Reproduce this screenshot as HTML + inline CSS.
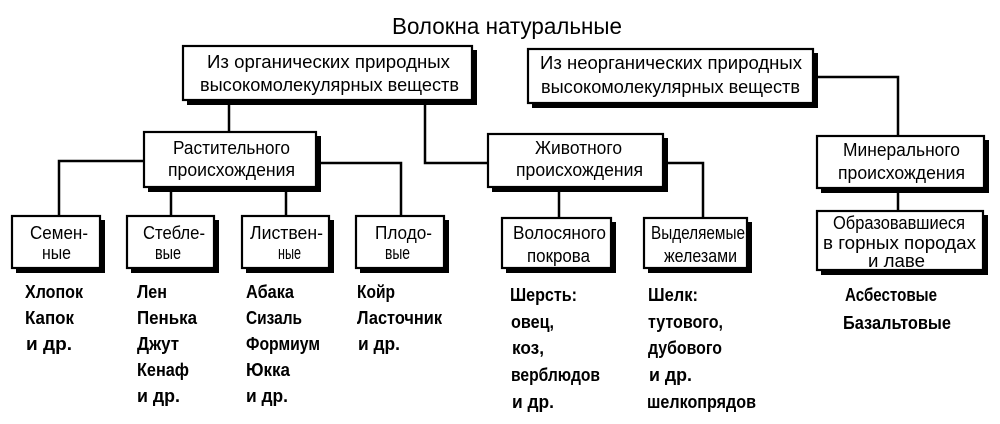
<!DOCTYPE html>
<html><head><meta charset="utf-8"><style>
html,body{margin:0;padding:0;background:#fff;}
svg{display:block;}
text{font-family:"Liberation Sans",sans-serif;fill:#000;dominant-baseline:central;}
.b{font-size:18px;}
.l{font-size:18px;font-weight:bold;}
</style></head><body>
<svg width="1000" height="424" viewBox="0 0 1000 424" xmlns="http://www.w3.org/2000/svg">
<g stroke="#000" stroke-width="2.5" fill="none">
<line x1="229" y1="100" x2="229" y2="132"/>
<polyline points="425,100 425,163 490,163"/>
<polyline points="813,77 898,77 898,136"/>
<line x1="898" y1="188" x2="898" y2="211"/>
<polyline points="144,161 59,161 59,216"/>
<polyline points="316,163 401,163 401,216"/>
<line x1="171" y1="187" x2="171" y2="216"/>
<line x1="286" y1="187" x2="286" y2="216"/>
<polyline points="663,163 703,163 703,218"/>
<line x1="559" y1="187" x2="559" y2="218"/>
</g>
<g fill="#000">
<rect x="187" y="50" width="290" height="55"/>
<rect x="532" y="53" width="286" height="55"/>
<rect x="148" y="136" width="173" height="56"/>
<rect x="492" y="138" width="176" height="54"/>
<rect x="821" y="140" width="168" height="53"/>
<rect x="16" y="220" width="89" height="53"/>
<rect x="131" y="220" width="88" height="53"/>
<rect x="246" y="220" width="88" height="53"/>
<rect x="360" y="220" width="89" height="53"/>
<rect x="506" y="222" width="110" height="51"/>
<rect x="648" y="222" width="104" height="51"/>
<rect x="821" y="215" width="167" height="60"/>
</g>
<g fill="#fff" stroke="#000" stroke-width="2.2">
<rect x="183" y="46" width="289" height="54"/>
<rect x="528" y="49" width="285" height="54"/>
<rect x="144" y="132" width="172" height="55"/>
<rect x="488" y="134" width="175" height="53"/>
<rect x="817" y="136" width="167" height="52"/>
<rect x="12" y="216" width="88" height="52"/>
<rect x="127" y="216" width="87" height="52"/>
<rect x="242" y="216" width="87" height="52"/>
<rect x="356" y="216" width="88" height="52"/>
<rect x="502" y="218" width="109" height="50"/>
<rect x="644" y="218" width="103" height="50"/>
<rect x="817" y="211" width="166" height="59"/>
</g>
<text x="392" y="26" font-size="23" textLength="230" lengthAdjust="spacingAndGlyphs">Волокна натуральные</text>
<g class="b">
<text x="207" y="62" textLength="243" lengthAdjust="spacingAndGlyphs">Из органических природных</text>
<text x="200" y="85" textLength="259" lengthAdjust="spacingAndGlyphs">высокомолекулярных веществ</text>
<text x="540" y="63" textLength="262" lengthAdjust="spacingAndGlyphs">Из неорганических природных</text>
<text x="541" y="87" textLength="259" lengthAdjust="spacingAndGlyphs">высокомолекулярных веществ</text>
<text x="173" y="148" textLength="117" lengthAdjust="spacingAndGlyphs">Растительного</text>
<text x="168" y="170" textLength="127" lengthAdjust="spacingAndGlyphs">происхождения</text>
<text x="535" y="148" textLength="87" lengthAdjust="spacingAndGlyphs">Животного</text>
<text x="516" y="170" textLength="127" lengthAdjust="spacingAndGlyphs">происхождения</text>
<text x="843" y="150" textLength="117" lengthAdjust="spacingAndGlyphs">Минерального</text>
<text x="838" y="173" textLength="127" lengthAdjust="spacingAndGlyphs">происхождения</text>
<text x="513" y="233" textLength="93" lengthAdjust="spacingAndGlyphs">Волосяного</text>
<text x="527" y="256" textLength="63" lengthAdjust="spacingAndGlyphs">покрова</text>
<text x="651" y="233" textLength="94" lengthAdjust="spacingAndGlyphs">Выделяемые</text>
<text x="664" y="256" textLength="73" lengthAdjust="spacingAndGlyphs">железами</text>
<text x="833" y="223" textLength="132" lengthAdjust="spacingAndGlyphs">Образовавшиеся</text>
<text x="823" y="243" textLength="153" lengthAdjust="spacingAndGlyphs">в горных породах</text>
<text x="868" y="261" textLength="57" lengthAdjust="spacingAndGlyphs">и лаве</text>
<text x="30" y="233" textLength="58" lengthAdjust="spacingAndGlyphs">Семен-</text>
<text x="42" y="253" textLength="29" lengthAdjust="spacingAndGlyphs">ные</text>
<text x="143" y="233" textLength="62" lengthAdjust="spacingAndGlyphs">Стебле-</text>
<text x="155" y="253" textLength="26" lengthAdjust="spacingAndGlyphs">вые</text>
<text x="250" y="233" textLength="73" lengthAdjust="spacingAndGlyphs">Листвен-</text>
<text x="278" y="253" textLength="23" lengthAdjust="spacingAndGlyphs">ные</text>
<text x="375" y="233" textLength="57" lengthAdjust="spacingAndGlyphs">Плодо-</text>
<text x="385" y="253" textLength="25" lengthAdjust="spacingAndGlyphs">вые</text>
</g>
<g class="l">
<text x="25" y="292" textLength="58" lengthAdjust="spacingAndGlyphs">Хлопок</text>
<text x="25" y="318" textLength="49" lengthAdjust="spacingAndGlyphs">Капок</text>
<text x="26" y="344" textLength="46" lengthAdjust="spacingAndGlyphs">и др.</text>
<text x="137" y="292" textLength="30" lengthAdjust="spacingAndGlyphs">Лен</text>
<text x="137" y="318" textLength="60" lengthAdjust="spacingAndGlyphs">Пенька</text>
<text x="137" y="344" textLength="42" lengthAdjust="spacingAndGlyphs">Джут</text>
<text x="137" y="370" textLength="52" lengthAdjust="spacingAndGlyphs">Кенаф</text>
<text x="137" y="396" textLength="43" lengthAdjust="spacingAndGlyphs">и др.</text>
<text x="246" y="292" textLength="48" lengthAdjust="spacingAndGlyphs">Абака</text>
<text x="246" y="318" textLength="56" lengthAdjust="spacingAndGlyphs">Сизаль</text>
<text x="246" y="344" textLength="74" lengthAdjust="spacingAndGlyphs">Формиум</text>
<text x="246" y="370" textLength="44" lengthAdjust="spacingAndGlyphs">Юкка</text>
<text x="246" y="396" textLength="42" lengthAdjust="spacingAndGlyphs">и др.</text>
<text x="357" y="292" textLength="38" lengthAdjust="spacingAndGlyphs">Койр</text>
<text x="357" y="318" textLength="85" lengthAdjust="spacingAndGlyphs">Ласточник</text>
<text x="358" y="344" textLength="42" lengthAdjust="spacingAndGlyphs">и др.</text>
<text x="510" y="295" textLength="67" lengthAdjust="spacingAndGlyphs">Шерсть:</text>
<text x="511" y="322" textLength="43" lengthAdjust="spacingAndGlyphs">овец,</text>
<text x="512" y="348" textLength="32" lengthAdjust="spacingAndGlyphs">коз,</text>
<text x="511" y="375" textLength="89" lengthAdjust="spacingAndGlyphs">верблюдов</text>
<text x="512" y="402" textLength="42" lengthAdjust="spacingAndGlyphs">и др.</text>
<text x="648" y="295" textLength="50" lengthAdjust="spacingAndGlyphs">Шелк:</text>
<text x="648" y="322" textLength="75" lengthAdjust="spacingAndGlyphs">тутового,</text>
<text x="648" y="348" textLength="74" lengthAdjust="spacingAndGlyphs">дубового</text>
<text x="649" y="375" textLength="43" lengthAdjust="spacingAndGlyphs">и др.</text>
<text x="647" y="402" textLength="109" lengthAdjust="spacingAndGlyphs">шелкопрядов</text>
<text x="845" y="295" textLength="92" lengthAdjust="spacingAndGlyphs">Асбестовые</text>
<text x="843" y="323" textLength="108" lengthAdjust="spacingAndGlyphs">Базальтовые</text>
</g>
</svg>
</body></html>
